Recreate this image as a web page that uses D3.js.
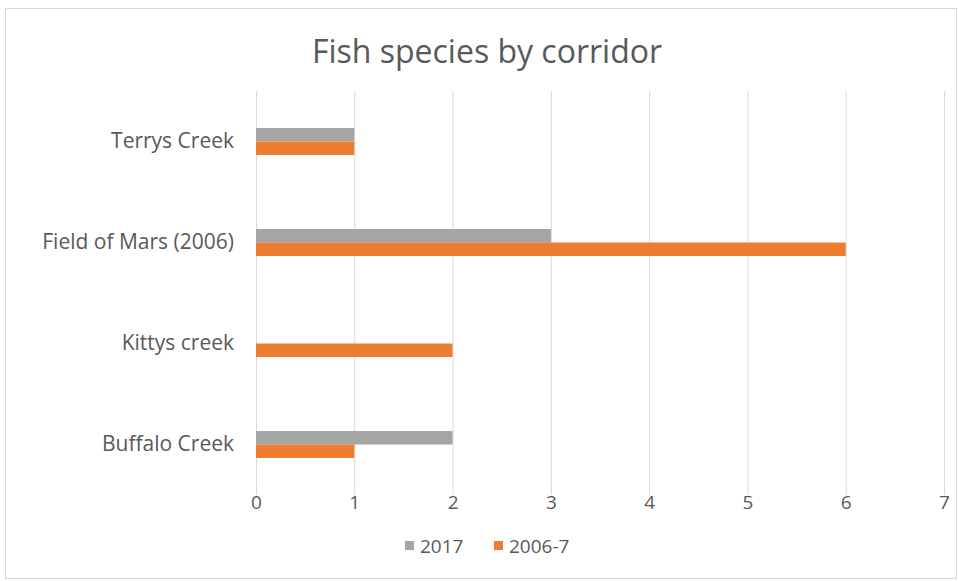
<!DOCTYPE html>
<html><head><meta charset="utf-8">
<script src="https://cdn.jsdelivr.net/npm/d3@7"></script>
<style>body{margin:0;background:#fff;} text{font-family:"Open Sans",sans-serif;}</style>
</head><body><svg id="c" width="958" height="581"></svg>
<script>
const categories = ["Terrys Creek", "Field of Mars (2006)", "Kittys creek", "Buffalo Creek"];
const seriesNames = ["2017", "2006-7"];
const values2017 = [1, 3, 0, 2];
const values2006 = [1, 6, 2, 1];
const xTicks = [0, 1, 2, 3, 4, 5, 6, 7];
const colors = ["#a5a5a5", "#ed7d31"];

const svg = d3.select("#c");
svg.append("rect").attr("x", 5.5).attr("y", 8.5).attr("width", 951).attr("height", 570)
  .attr("fill", "#fff").attr("stroke", "#d9d9d9");

const x = d3.scaleLinear().domain([0, 7]).range([256, 944]);
const y = d3.scaleBand().domain(categories).range([91, 495]);
const inner = d3.scaleBand().domain(seriesNames).range([y.bandwidth()/2 - 13.5, y.bandwidth()/2 + 13.5]);

// gridlines
svg.append("g").selectAll("line").data(xTicks).join("line")
  .attr("x1", d => x(d) + 0.5).attr("x2", d => x(d) + 0.5)
  .attr("y1", 91).attr("y2", 495)
  .attr("stroke", "#d9d9d9").attr("stroke-width", 1);

const data = [values2017, values2006];
data.forEach((vals, si) => {
  svg.append("g").selectAll("rect").data(categories).join("rect")
    .attr("x", x(0))
    .attr("y", (c) => y(c) + inner(seriesNames[si]))
    .attr("width", (c, i) => x(vals[i]) - x(0))
    .attr("height", inner.bandwidth())
    .attr("fill", colors[si]);
});

// x axis labels
const xAxis = d3.axisBottom(x).tickValues(xTicks).tickFormat(d3.format("d")).tickSize(0).tickPadding(0);
const gx = svg.append("g").attr("transform", "translate(0,495)").call(xAxis);
gx.select(".domain").remove();
gx.selectAll("text").attr("font-size", 19).attr("fill", "#595959").attr("font-family", "'Open Sans',sans-serif");

// y axis labels
const yAxis = d3.axisLeft(y).tickSize(0).tickPadding(22);
const gy = svg.append("g").attr("transform", "translate(256,0)").call(yAxis);
gy.select(".domain").remove();
gy.selectAll("text").attr("font-size", 21).attr("fill", "#595959").attr("font-family", "'Open Sans',sans-serif");

// title
svg.append("text").attr("x", 487).attr("y", 63).attr("text-anchor", "middle")
  .attr("font-size", 32).attr("fill", "#595959").text("Fish species by corridor");

// legend
const legendItems = [{name: seriesNames[0], color: colors[0], x: 405}, {name: seriesNames[1], color: colors[1], x: 494}];
const lg = svg.append("g");
legendItems.forEach(it => {
  lg.append("rect").attr("x", it.x).attr("y", 541).attr("width", 9).attr("height", 9).attr("fill", it.color);
  lg.append("text").attr("x", it.x + 15).attr("y", 553).attr("font-size", 19).attr("fill", "#595959").text(it.name);
});
</script></body></html>
